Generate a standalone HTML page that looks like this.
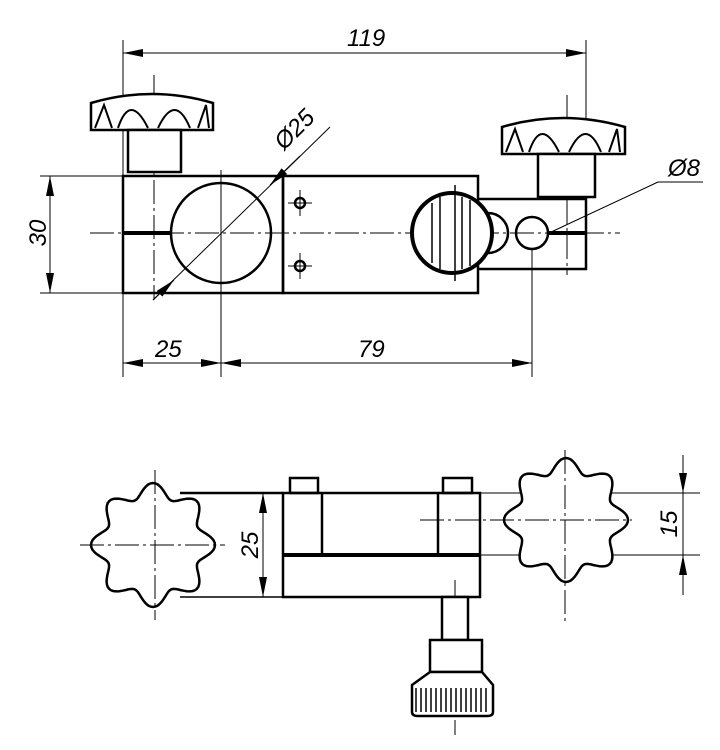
<!DOCTYPE html>
<html><head><style>html,body{margin:0;padding:0;background:#fff}svg{display:block}</style></head>
<body>
<svg width="720" height="750" viewBox="0 0 720 750" xmlns="http://www.w3.org/2000/svg" font-family="Liberation Sans, sans-serif" font-style="italic">
<defs>
<marker id="a" viewBox="0 0 20 8" refX="20" refY="4" markerWidth="20" markerHeight="8" orient="auto" markerUnits="userSpaceOnUse"><path d="M0,0 L20,4 L0,8z" fill="#000"/></marker>
</defs>
<g fill="none" stroke="#000">
<!-- TOP VIEW -->
<g stroke-width="1">
<line x1="123" y1="40" x2="123" y2="377"/>
<line x1="586" y1="40" x2="586" y2="197"/>
<line x1="123" y1="53" x2="586" y2="53" marker-end="url(#a)"/>
<line x1="586" y1="53" x2="123" y2="53" marker-end="url(#a)"/>
<line x1="40" y1="176" x2="123" y2="176"/>
<line x1="40" y1="293" x2="123" y2="293"/>
<line x1="50" y1="233" x2="50" y2="176" marker-end="url(#a)"/>
<line x1="50" y1="233" x2="50" y2="293" marker-end="url(#a)"/>
<line x1="221" y1="293" x2="221" y2="377"/>
<line x1="532" y1="250" x2="532" y2="377"/>
<line x1="170" y1="363" x2="123" y2="363" marker-end="url(#a)"/>
<line x1="170" y1="363" x2="221" y2="363" marker-end="url(#a)"/>
<line x1="380" y1="363" x2="221" y2="363" marker-end="url(#a)"/>
<line x1="380" y1="363" x2="532" y2="363" marker-end="url(#a)"/>
<line x1="90" y1="233" x2="620" y2="233" stroke-dasharray="24,4,3,4"/>
<line x1="154" y1="75" x2="154" y2="300" stroke-dasharray="24,4,3,4"/>
<line x1="567" y1="95" x2="567" y2="275" stroke-dasharray="24,4,3,4"/>
<line x1="221" y1="170" x2="221" y2="293"/>
<line x1="153" y1="300" x2="330" y2="127"/>
<line x1="300" y1="156" x2="270" y2="185" marker-end="url(#a)"/>
<line x1="153" y1="300" x2="174" y2="280" marker-end="url(#a)"/>
<line x1="549" y1="233" x2="658" y2="182"/>
<line x1="658" y1="182" x2="703" y2="182"/>
<line x1="300" y1="190" x2="300" y2="216"/><line x1="288" y1="203" x2="312" y2="203"/>
<line x1="300" y1="253" x2="300" y2="279"/><line x1="288" y1="266" x2="312" y2="266"/>
</g>
<g stroke-width="2.5">
<rect x="123" y="176" width="160" height="117"/>
<rect x="283" y="176" width="195" height="117"/>
<polyline points="478,199 586,199 586,269 478,269"/>
<circle cx="221" cy="233" r="50"/>
<line x1="123" y1="233" x2="171" y2="233" stroke-width="4"/>
<line x1="549" y1="233" x2="586" y2="233" stroke-width="4"/>
<circle cx="300" cy="203" r="5"/><circle cx="300" cy="266" r="5"/>
<circle cx="532" cy="233" r="16"/>
<circle cx="488" cy="233" r="20"/>
<circle cx="452" cy="233" r="40" stroke-width="4" fill="#fff"/>
<line x1="432" y1="203" x2="432" y2="263" stroke-width="1.5"/><line x1="440" y1="197" x2="440" y2="269" stroke-width="1.5"/><line x1="462" y1="197" x2="462" y2="269" stroke-width="1.5"/><line x1="470" y1="200" x2="470" y2="266" stroke-width="1.5"/>
<line x1="455" y1="185" x2="455" y2="281" stroke-width="1.5"/>
<!-- left knob -->
<path d="M91,130 L91,103 Q152,85 213,103 L213,130 Z" fill="#fff"/>
<path d="M95,128 L104,105 L112,128 M118,128 Q130,92 148,128 M158,128 Q175,92 190,128 M198,128 L206,105 L209,128" stroke-width="2"/>
<rect x="128" y="130" width="53" height="42" fill="#fff"/>
<!-- right knob -->
<path d="M502,154 L502,127 Q563,109 625,127 L625,154 Z" fill="#fff"/>
<path d="M506,152 L515,129 L523,152 M529,152 Q541,116 559,152 M569,152 Q586,116 601,152 M609,152 L617,129 L620,152" stroke-width="2"/>
<rect x="538" y="154" width="57" height="43" fill="#fff"/>
</g>
<!-- BOTTOM VIEW -->
<g stroke-width="1">
<line x1="80" y1="545" x2="225" y2="545" stroke-dasharray="24,4,3,4"/>
<line x1="155" y1="470" x2="155" y2="620" stroke-dasharray="24,4,3,4"/>
<line x1="420" y1="520" x2="632" y2="520" stroke-dasharray="24,4,3,4"/>
<line x1="565" y1="450" x2="565" y2="625" stroke-dasharray="24,4,3,4"/>
<line x1="455" y1="580" x2="455" y2="735" stroke-dasharray="24,4,3,4"/>
<line x1="480" y1="493" x2="700" y2="493"/>
<line x1="480" y1="555" x2="700" y2="555"/>
<line x1="683" y1="455" x2="683" y2="493" marker-end="url(#a)"/>
<line x1="683" y1="595" x2="683" y2="555" marker-end="url(#a)"/>
<line x1="683" y1="493" x2="683" y2="555"/>
<line x1="263" y1="545" x2="263" y2="493" marker-end="url(#a)"/>
<line x1="263" y1="545" x2="263" y2="597" marker-end="url(#a)"/>
</g>
<g stroke-width="2.5">
<line x1="180" y1="493" x2="283" y2="493"/>
<line x1="180" y1="597" x2="283" y2="597" stroke-width="1.5"/>
<rect x="283" y="493" width="197" height="104"/>
<line x1="283" y1="555" x2="480" y2="555" stroke-width="4"/>
<line x1="322" y1="493" x2="322" y2="555"/><line x1="438" y1="493" x2="438" y2="555"/>
<rect x="290" y="478" width="28" height="15"/><rect x="443" y="478" width="29" height="15"/>
<path id="s1" fill="#fff"/>
<path id="s2" fill="#fff"/>
<rect x="442" y="597" width="26" height="43" fill="#fff"/>
<rect x="430" y="640" width="52" height="32" fill="#fff"/>
<path d="M430,672 L412,685 L412,712 Q412,716 418,716 L487,716 Q493,716 493,712 L493,685 L482,672 Z" fill="#fff"/>
</g>
<g stroke-width="1.5">
<path d="M416,688 V712 M421,688 V712 M426,688 V712 M431,688 V712 M436,688 V712 M441,688 V712 M446,688 V712 M451,688 V712 M456,688 V712 M461,688 V712 M466,688 V712 M471,688 V712 M476,688 V712 M481,688 V712 M486,688 V712"/>
</g>
<g stroke-width="1">
<line x1="155" y1="470" x2="155" y2="620" stroke-dasharray="24,4,3,4"/>
<line x1="80" y1="545" x2="225" y2="545" stroke-dasharray="24,4,3,4"/>
<line x1="565" y1="450" x2="565" y2="625" stroke-dasharray="24,4,3,4"/>
<line x1="420" y1="520" x2="632" y2="520" stroke-dasharray="24,4,3,4"/>
</g>
</g>
<g fill="#000" font-size="24">
<text x="347" y="46">119</text>
<text x="155" y="357">25</text>
<text x="358" y="357">79</text>
<text transform="translate(46,233) rotate(-90)" text-anchor="middle">30</text>
<text transform="translate(300,135) rotate(-45)" text-anchor="middle">Ø25</text>
<text x="668" y="176">Ø8</text>
<text transform="translate(258,545) rotate(-90)" text-anchor="middle">25</text>
<text transform="translate(677,524) rotate(-90)" text-anchor="middle">15</text>
</g>
</svg>
<script>
function star(id,cx,cy){var d="";for(var i=0;i<=160;i++){var t=i/160*2*Math.PI;var r=55+7*Math.cos(8*t);var x=cx+r*Math.cos(t),y=cy+r*Math.sin(t);d+=(i?"L":"M")+x.toFixed(1)+","+y.toFixed(1);}document.getElementById(id).setAttribute("d",d+"Z");}
star("s1",153,545);star("s2",566,520);
</script>
</body></html>
